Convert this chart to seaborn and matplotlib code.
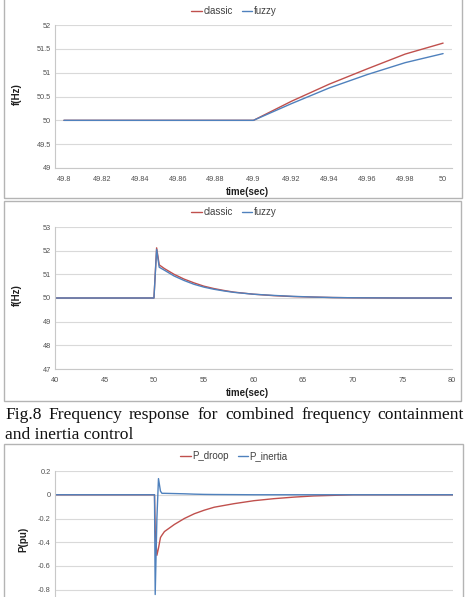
import matplotlib
matplotlib.use("Agg")
import matplotlib.pyplot as plt
import seaborn as sns
import pandas as pd
from matplotlib.patches import Rectangle

# ---------------- data ----------------
# Panel 1 (zoomed frequency, 49.8-50 s)
t1 = [49.8, 49.9, 49.92, 49.94, 49.96, 49.98, 50.0]
f1_classic = [50.0, 50.0, 50.40, 50.76, 51.08, 51.39, 51.62]
f1_fuzzy = [50.0, 50.0, 50.35, 50.68, 50.96, 51.21, 51.40]
x1_ticks = [49.8, 49.82, 49.84, 49.86, 49.88, 49.9, 49.92, 49.94, 49.96, 49.98, 50.0]
x1_labels = ["49.8", "49.82", "49.84", "49.86", "49.88", "49.9", "49.92", "49.94", "49.96", "49.98", "50"]
y1_ticks = [49, 49.5, 50, 50.5, 51, 51.5, 52]
y1_labels = ["49", "49.5", "50", "50.5", "51", "51.5", "52"]

# Panel 2 (frequency, 40-80 s)
t2 = [40, 49.97, 50.24, 50.5, 51, 52, 53, 54, 55, 56, 57, 58, 60, 62, 64, 66, 68, 70, 75, 80]
f2_classic = [50, 50, 52.12, 51.40, 51.25, 51.00, 50.80, 50.64, 50.50, 50.40, 50.32, 50.25,
              50.16, 50.10, 50.06, 50.04, 50.02, 50.01, 50.0, 50.0]
f2_fuzzy = [50, 50, 52.05, 51.30, 51.18, 50.93, 50.74, 50.58, 50.46, 50.37, 50.30, 50.24,
            50.16, 50.11, 50.07, 50.04, 50.02, 50.01, 50.0, 50.0]
x2_ticks = [40, 45, 50, 55, 60, 65, 70, 75, 80]
y2_ticks = [47, 48, 49, 50, 51, 52, 53]

# Panel 3 (power, 40-80 s)
t3 = [40, 50.0, 50.07, 50.24, 50.4, 50.6, 50.75, 51, 52, 53, 54, 55, 56, 58, 60, 62, 64, 66, 68, 70, 75, 80]
p_droop = [0, 0, -0.30, -0.51, -0.45, -0.36, -0.34, -0.31, -0.25, -0.20, -0.16, -0.13, -0.105,
           -0.075, -0.05, -0.033, -0.02, -0.01, -0.005, 0, 0, 0]
p_inertia = [0, 0, -0.84, -0.20, 0.136, 0.03, 0.012, 0.012, 0.010, 0.008, 0.005, 0.003, 0.002,
             0.001, 0, 0, 0, 0, 0, 0, 0, 0]
y3_ticks = [-0.8, -0.6, -0.4, -0.2, 0, 0.2]
y3_labels = ["-0.8", "-0.6", "-0.4", "-0.2", "0", "0.2"]

caption_line1 = ["Fig.8", "Frequency", "response", "for", "combined", "frequency", "containment"]
caption_word_x = [5, 48, 129, 198, 225, 301, 377]
caption_line2 = "and inertia control"

RED = "#C0504D"
BLUE = "#4F81BD"

# ---------------- style ----------------
sns.set_style("white")
plt.rcParams["font.family"] = ["Liberation Sans", "DejaVu Sans"]

W, H = 465, 597
fig = plt.figure(figsize=(W / 100, H / 100), dpi=100)


def fx(x):
    return x / W


def fy(y):
    return 1 - y / H


def make_ax(x0, x1, ytop, ybot):
    return fig.add_axes([fx(x0), fy(ybot), fx(x1) - fx(x0), fy(ytop) - fy(ybot)])


def border(x0, y0, x1, y1):
    fig.patches.append(Rectangle((fx(x0), fy(y1)), fx(x1) - fx(x0), fy(y0) - fy(y1),
                                 transform=fig.transFigure, fill=False,
                                 edgecolor="#b4b4b4", lw=1.0))


def style_ax(ax):
    for s in ["top", "right"]:
        ax.spines[s].set_visible(False)
    for s in ["left", "bottom"]:
        ax.spines[s].set_color("#c8c8c8")
        ax.spines[s].set_linewidth(0.8)
    ax.grid(axis="y", color="#d9d9d9", lw=0.8)
    ax.set_axisbelow(True)
    ax.tick_params(axis="both", labelsize=5.3, colors="#c8c8c8", labelcolor="#505050",
                   length=2.5, width=0.6, pad=3)
    ax.tick_params(axis="y", length=0)


def draw(ax, t, a, b, names):
    df = pd.DataFrame({"t": list(t) * 2, "v": list(a) + list(b),
                       "s": [names[0]] * len(t) + [names[1]] * len(t)})
    sns.lineplot(data=df, x="t", y="v", hue="s", palette=[RED, BLUE], estimator=None,
                 sort=False, lw=1.0, ax=ax, legend=False)
    ax.set_xlabel("")
    ax.set_ylabel("")


def legend(ax, names, ycenter):
    leg = ax.legend(handles=ax.lines[:2], labels=names, loc="center", ncol=2,
                    bbox_to_anchor=(fx(234), fy(ycenter)), bbox_transform=fig.transFigure,
                    frameon=False, fontsize=7, handlelength=1.1, handletextpad=0.15,
                    columnspacing=0.9, borderpad=0, borderaxespad=0)
    for txt in leg.get_texts():
        txt.set_color("#404040")


# ---------------- panel 1 ----------------
ax1 = make_ax(55, 452, 25, 168)
draw(ax1, t1, f1_classic, f1_fuzzy, ["classic", "fuzzy"])
ax1.set_xlim(49.7953, 50.0047)
ax1.set_ylim(49, 52)
ax1.set_xticks(x1_ticks, x1_labels)
ax1.set_yticks(y1_ticks, y1_labels)
style_ax(ax1)
ax1.set_ylabel("f(Hz)", fontsize=7, fontweight="bold", color="#202020")
ax1.yaxis.set_label_coords(-0.083, 0.52)
legend(ax1, ["classic", "fuzzy"], 11)
fig.text(fx(247), fy(192), "time(sec)", ha="center", va="center", fontsize=7,
         fontweight="bold", color="#202020")
border(4, -2, 462, 198)

# ---------------- panel 2 ----------------
ax2 = make_ax(55, 452, 227, 369)
draw(ax2, t2, f2_classic, f2_fuzzy, ["classic", "fuzzy"])
ax2.set_xlim(40, 80)
ax2.set_ylim(47, 53)
ax2.set_xticks(x2_ticks, [str(v) for v in x2_ticks])
ax2.set_yticks(y2_ticks, [str(v) for v in y2_ticks])
style_ax(ax2)
ax2.set_ylabel("f(Hz)", fontsize=7, fontweight="bold", color="#202020")
ax2.yaxis.set_label_coords(-0.083, 0.52)
legend(ax2, ["classic", "fuzzy"], 212)
fig.text(fx(247), fy(393), "time(sec)", ha="center", va="center", fontsize=7,
         fontweight="bold", color="#202020")
border(4, 201.5, 461, 401)

# ---------------- caption ----------------
for w, x in zip(caption_line1, caption_word_x):
    fig.text(fx(x), fy(419), w, ha="left", va="baseline", fontsize=12.6,
             family=["Liberation Serif", "DejaVu Serif"], color="#111111")
fig.text(fx(5), fy(439), caption_line2, ha="left", va="baseline", fontsize=12.6,
         family=["Liberation Serif", "DejaVu Serif"], color="#111111")

# ---------------- panel 3 (lower part cropped off in the reference) ----------------
ax3 = make_ax(55, 453, 471, 613.5)
draw(ax3, t3, p_droop, p_inertia, ["P_droop", "P_inertia"])
ax3.set_xlim(40, 80)
ax3.set_ylim(-1.0, 0.2)
ax3.set_yticks(y3_ticks, y3_labels)
ax3.set_xticks(x2_ticks, [str(v) for v in x2_ticks])
style_ax(ax3)
ax3.tick_params(axis="x", labelbottom=False, length=0)
ax3.set_ylabel("P(pu)", fontsize=7, fontweight="bold", color="#202020")
ax3.yaxis.set_label_coords(-0.068, 0.52)
legend(ax3, ["P_droop", "P_inertia"], 456)
border(4, 444, 463, 660)

fig.savefig("out.png", dpi=100)
